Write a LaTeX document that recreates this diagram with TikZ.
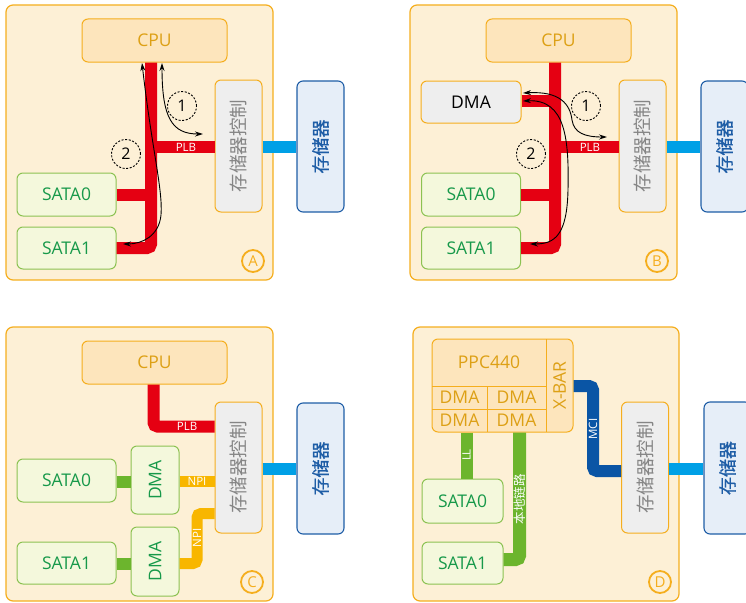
\documentclass[tikz,border=0pt]{standalone}
\usepackage{fontspec}
\setmainfont{Open Sans}
\newfontfamily\cjk{Noto Sans CJK SC}
\newfontfamily\cjkheavy[FakeBold=0.8]{Noto Sans CJK SC}
\usetikzlibrary{arrows.meta}

\definecolor{panelfill}{HTML}{FDF0D6}
\definecolor{panelline}{HTML}{F5AE1E}
\definecolor{cpufill}{HTML}{FDE5BC}
\definecolor{cputext}{HTML}{DDA015}
\definecolor{ctrlfill}{HTML}{EEEEEE}
\definecolor{ctrltext}{HTML}{858585}
\definecolor{memfill}{HTML}{E6EEF8}
\definecolor{memline}{HTML}{1E5DA6}
\definecolor{satafill}{HTML}{F4F8DC}
\definecolor{sataline}{HTML}{8CC252}
\definecolor{satatext}{HTML}{17994A}
\definecolor{plbred}{HTML}{E50012}
\definecolor{memcyan}{HTML}{00A0E6}
\definecolor{llgreen}{HTML}{6CB52D}
\definecolor{npiyellow}{HTML}{F8B600}
\definecolor{mciblue}{HTML}{0A55A5}

\tikzset{
  panel/.style={fill=panelfill, draw=panelline, line width=1.2pt, rounded corners=7pt},
  cpubox/.style={fill=cpufill, draw=panelline, line width=1pt, rounded corners=6pt,
    text=cputext, font=\fontsize{17.5}{19}\selectfont, inner sep=0pt},
  ctrlbox/.style={fill=ctrlfill, draw=panelline, line width=1pt, rounded corners=6pt,
    minimum width=47pt, minimum height=132pt, inner sep=0pt},
  ctrllabel/.style={text=ctrltext, font=\cjk\fontsize{18.5}{20}\selectfont, rotate=90},
  membox/.style={fill=memfill, draw=memline, line width=1.1pt, rounded corners=6pt,
    minimum width=47pt, minimum height=131pt, inner sep=0pt},
  memlabel/.style={text=memline, font=\cjkheavy\fontsize{18}{20}\selectfont, rotate=90},
  satabox/.style={fill=satafill, draw=sataline, line width=1pt, rounded corners=6pt,
    text=satatext, font=\fontsize{17.5}{19}\selectfont, inner sep=0pt},
  dmagray/.style={fill=ctrlfill, draw=panelline, line width=1pt, rounded corners=6pt,
    text=black, font=\fontsize{17.5}{19}\selectfont, inner sep=0pt},
  bus/.style={line width=12pt},
  redbus/.style={bus, draw=plbred},
  memlink/.style={bus, draw=memcyan},
  greenbus/.style={bus, draw=llgreen},
  npibus/.style={line width=11pt, draw=npiyellow},
  mcibus/.style={bus, draw=mciblue},
  buslabel/.style={text=white, font=\fontsize{11.5}{12}\selectfont, inner sep=0pt},
  tag/.style={circle, draw=panelline, line width=1.8pt, text=panelline,
    font=\fontsize{15}{16}\selectfont, minimum size=22pt, inner sep=0pt},
  numring/.style={circle, draw=black, line width=0.9pt, dash pattern=on 2pt off 1.6pt,
    minimum size=29pt, inner sep=0pt, font=\fontsize{16}{17}\selectfont},
  flow/.style={draw=black, line width=0.9pt, {Stealth[length=8pt,width=5pt]}-{Stealth[length=8pt,width=5pt]}},
  ppctext/.style={text=cputext, font=\fontsize{17.5}{19}\selectfont, inner sep=0pt},
  ppcline/.style={draw=panelline, line width=1pt}
}

\begin{document}
\begin{tikzpicture}[x=1pt, y=-1pt]
\useasboundingbox (0,0) rectangle (746,602);
\clip (0,0) rectangle (746,602);

% ---------------- A: CPU-driven transfer over PLB ----------------
\draw[panel] (6,5) rectangle (273,280);
\node[cpubox, minimum width=145pt, minimum height=43pt] (cpuA) at (154.5,40.5) {CPU};
\node[ctrlbox] (ctrlA) at (238.5,146) {};
\node[ctrllabel] (ctrlAtxt) at (ctrlA.center) {存储器控制};
\node[membox] (memA) at (320.5,146.5) {};
\node[memlabel] (memAtxt) at (memA.center) {存储器};
\node[satabox, minimum width=99pt, minimum height=43pt] (sata0A) at (66.5,194.5) {SATA0};
\node[satabox, minimum width=99pt, minimum height=42pt] (sata1A) at (66.5,248) {SATA1};

\coordinate (busA) at (151,0);
\coordinate (plbA) at (0,147);
\draw[redbus, rounded corners=4pt] (busA |- cpuA.south) -- (busA |- sata1A.east) -- (sata1A.east);
\draw[redbus] (sata0A.east) -- (busA |- sata0A.east);
\draw[redbus] (busA |- plbA) -- (ctrlA.west |- plbA) node[buslabel, pos=0.55] (plbAtxt) {PLB};
\draw[memlink] (ctrlA.east |- plbA) -- (memA.west |- plbA);

\coordinate (a1s) at (162,63);
\coordinate (a1e) at (203,134);
\draw[flow] (a1s) .. controls (162,118) and (172,134) .. (a1e);
\coordinate (a2s) at (142,63);
\coordinate (a2e) at (123,244);
\draw[flow] (a2s) .. controls (152,150) and (163,190) .. (161,215)
  .. controls (159,236) and (142,244) .. (a2e);
\node[numring] (n1A) at (182,106) {1};
\node[numring] (n2A) at (126,154) {2};
\node[tag] (tagA) at (253,261) {A};

% ---------------- B: DMA engine on PLB ----------------
\draw[panel] (410,5) rectangle (677,280);
\node[cpubox, minimum width=145pt, minimum height=43pt] (cpuB) at (558.5,40.5) {CPU};
\node[dmagray, minimum width=100pt, minimum height=42pt] (dmaB) at (471,102) {DMA};
\node[ctrlbox] (ctrlB) at (642.5,146) {};
\node[ctrllabel] (ctrlBtxt) at (ctrlB.center) {存储器控制};
\node[membox] (memB) at (724.5,146.5) {};
\node[memlabel] (memBtxt) at (memB.center) {存储器};
\node[satabox, minimum width=99pt, minimum height=43pt] (sata0B) at (471,194.5) {SATA0};
\node[satabox, minimum width=99pt, minimum height=42pt] (sata1B) at (471,248) {SATA1};

\coordinate (busB) at (555,0);
\coordinate (plbB) at (0,147);
\coordinate (dmaBy) at (0,101);
\draw[redbus, rounded corners=4pt] (busB |- cpuB.south) -- (busB |- sata1B.east) -- (sata1B.east);
\draw[redbus] (dmaB.east |- dmaBy) -- (busB |- dmaBy);
\draw[redbus] (sata0B.east) -- (busB |- sata0B.east);
\draw[redbus] (busB |- plbB) -- (ctrlB.west |- plbB) node[buslabel, pos=0.55] (plbBtxt) {PLB};
\draw[memlink] (ctrlB.east |- plbB) -- (memB.west |- plbB);

\coordinate (b1s) at (523,93);
\coordinate (b1e) at (607,137);
\draw[flow] (b1s) .. controls (560,91) and (570,104) .. (572,120)
  .. controls (574,133) and (585,137) .. (b1e);
\coordinate (b2s) at (523,101);
\coordinate (b2e) at (530,244);
\draw[flow] (b2s) .. controls (566,99) and (569,140) .. (568,190)
  .. controls (567,235) and (555,244) .. (b2e);
\node[numring] (n1B) at (586,106) {1};
\node[numring] (n2B) at (531,154) {2};
\node[tag] (tagB) at (657,261) {B};

% ---------------- C: per-port DMA on NPI ----------------
\draw[panel] (6,327) rectangle (273,601);
\node[cpubox, minimum width=145pt, minimum height=43pt] (cpuC) at (154.5,362.5) {CPU};
\node[ctrlbox, minimum height=131pt] (ctrlC) at (238.5,467.5) {};
\node[ctrllabel] (ctrlCtxt) at (ctrlC.center) {存储器控制};
\node[membox] (memC) at (320.5,468.5) {};
\node[memlabel] (memCtxt) at (memC.center) {存储器};
\node[satabox, minimum width=99pt, minimum height=43pt] (sata0C) at (66.5,480.5) {SATA0};
\node[satabox, minimum width=99pt, minimum height=42pt] (sata1C) at (66.5,563) {SATA1};
\node[satabox, minimum width=48pt, minimum height=68pt] (dma0C) at (155,480) {};
\node[text=satatext, font=\fontsize{17.5}{19}\selectfont, rotate=90] (dma0Ctxt) at (dma0C.center) {DMA};
\node[satabox, minimum width=48pt, minimum height=69pt] (dma1C) at (155,561.5) {};
\node[text=satatext, font=\fontsize{17.5}{19}\selectfont, rotate=90] (dma1Ctxt) at (dma1C.center) {DMA};

\coordinate (busC) at (153.5,0);
\coordinate (plbC) at (0,426.5);
\draw[redbus, rounded corners=4pt] (busC |- cpuC.south) -- (busC |- plbC) -- (ctrlC.west |- plbC)
  node[buslabel, pos=0.55] (plbCtxt) {PLB};
\coordinate (linkC) at (0,468.5);
\draw[memlink] (ctrlC.east |- linkC) -- (memC.west |- linkC);
\coordinate (g0C) at (0,481.5);
\coordinate (g1C) at (0,563.5);
\draw[greenbus] (sata0C.east |- g0C) -- (dma0C.west |- g0C);
\draw[greenbus] (sata1C.east |- g1C) -- (dma1C.west |- g1C);
\draw[npibus] (dma0C.east |- g0C) -- (ctrlC.west |- g0C) node[buslabel, midway] (npi0txt) {NPI};
\coordinate (npiC) at (197,513.5);
\draw[npibus, rounded corners=4pt] (dma1C.east |- g1C) -- (npiC |- g1C) -- (npiC) -- (ctrlC.west |- npiC);
\node[buslabel, rotate=90] (npi1txt) at (197,538) {NPI};
\node[tag] (tagC) at (252,582) {C};

% ---------------- D: PPC440 with built-in DMA ----------------
\draw[panel] (413,327) rectangle (679,601);
\node[fill=cpufill, draw=panelline, line width=1pt, rounded corners=6pt,
  minimum width=141pt, minimum height=93pt, inner sep=0pt] (ppc) at (502.5,385.5) {};
\draw[ppcline] (546,339) -- (546,432);
\draw[ppcline] (432,386) -- (546,386);
\draw[ppcline] (432,409) -- (546,409);
\draw[ppcline] (487,386) -- (487,432);
\node[ppctext] (ppcname) at (489,362.5) {PPC440};
\node[ppctext] (dmaD1) at (459.5,397.5) {DMA};
\node[ppctext] (dmaD2) at (516.5,397.5) {DMA};
\node[ppctext] (dmaD3) at (459.5,420.5) {DMA};
\node[ppctext] (dmaD4) at (516.5,420.5) {DMA};
\node[ppctext, rotate=90] (xbar) at (559.5,385.5) {X-BAR};

\node[ctrlbox, minimum height=131pt] (ctrlD) at (645,467.5) {};
\node[ctrllabel] (ctrlDtxt) at (ctrlD.center) {存储器控制};
\node[membox, minimum height=132pt] (memD) at (727.5,468) {};
\node[memlabel] (memDtxt) at (memD.center) {存储器};
\node[satabox, minimum width=81pt, minimum height=44pt] (sata0D) at (462.5,501) {SATA0};
\node[satabox, minimum width=81pt, minimum height=42pt] (sata1D) at (462.5,563) {SATA1};

\coordinate (linkD) at (0,468.5);
\draw[memlink] (ctrlD.east |- linkD) -- (memD.west |- linkD);

\coordinate (mciA) at (0,386);
\coordinate (mciB) at (593,471);
\draw[mcibus, rounded corners=4pt] (ppc.east |- mciA) -- (mciB |- mciA) -- (mciB) -- (ctrlD.west |- mciB);
\node[buslabel, rotate=90] (mcitxt) at (593,429) {MCI};

\coordinate (llD) at (466.5,0);
\draw[greenbus] (llD |- ppc.south) -- (llD |- sata0D.north);
\node[buslabel, rotate=90] (lltxt) at (466.5,455) {LL};

\coordinate (localD) at (519.5,559.5);
\draw[line width=13pt, draw=llgreen, rounded corners=4pt] (localD |- ppc.south) -- (localD) -- (sata1D.east |- localD);
\node[buslabel, rotate=90, font=\cjk\fontsize{12.5}{13}\selectfont] (localtxt) at (519.5,499) {本地链路};
\node[tag] (tagD) at (660,582) {D};
\end{tikzpicture}
\end{document}
